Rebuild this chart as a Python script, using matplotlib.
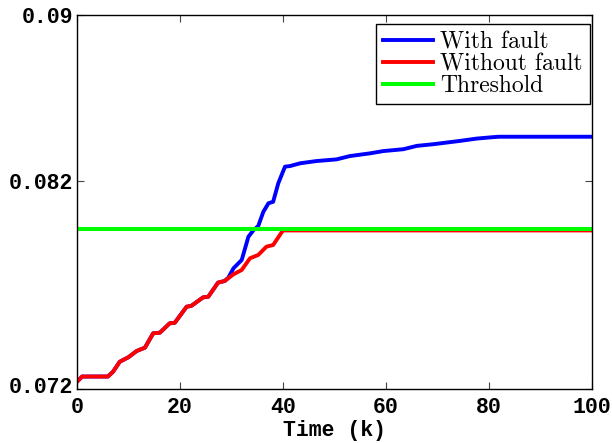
import matplotlib
matplotlib.use('Agg')
import matplotlib.pyplot as plt
import matplotlib.transforms as mtransforms
import numpy as np

# Residual evaluation with and without fault
k_nf=[0,1,6,7,8.3,10,11.6,13.2,14.8,16.1,18,19,21.3,22.2,24.5,25.5,27.4,28.7,30.4,32,
      33.6,35.2,36.8,38.1,40,100]
v_nf=[0.07235,0.0726,0.0726,0.07283,0.07331,0.07353,0.07383,0.07399,0.07468,0.07471,
      0.07516,0.07519,0.07596,0.0760,0.07641,0.07644,0.07712,0.0772,0.07752,0.07773,
      0.07829,0.07845,0.07885,0.07893,0.07963,0.07963]

k_f=[0,1,6,7,8.3,10,11.6,13.2,14.8,16.1,18,19,21.3,22.2,24.5,25.5,27.4,28.7,29.4,30.4,
     32,33.3,34.3,35.2,36.2,37.2,38.1,39.1,40.4,41.4,43.3,46.5,50.4,53,56.9,59.5,63.4,
     66,69.2,71.8,74.4,77.6,80.8,82,100]
v_f=[0.07235,0.0726,0.0726,0.07283,0.07331,0.07353,0.07383,0.07399,0.07468,0.07471,
     0.07516,0.07519,0.07596,0.0760,0.07641,0.07644,0.07712,0.0772,0.07736,0.07781,
     0.07821,0.07933,0.07965,0.07984,0.08053,0.08094,0.08101,0.0819,0.0827,0.08273,
     0.08286,0.08297,0.08305,0.08321,0.08334,0.08345,0.08354,0.0837,0.08378,0.08386,
     0.08394,0.08405,0.08412,0.08414,0.08414]

threshold=0.0797

xticks=[0,20,40,60,80,100]
yticks=[0.072,0.082,0.09]
ytick_labels=['0.072','0.082','0.09']

fig=plt.figure(figsize=(6.12,4.43),dpi=100,facecolor='white')
ax=fig.add_axes([0.1258,0.1219,0.8412,0.8443])

ax.plot(k_f,v_f,color='#0000ff',linewidth=2.8,label='With fault')
ax.plot(k_nf,v_nf,color='#ff0000',linewidth=2.8,label='Without fault')
ax.plot([0,100],[threshold,threshold],color='#00ff00',linewidth=2.9,label='Threshold')

ax.set_xlim(0,100)
ax.set_ylim(0.072,0.09)
ax.set_xticks(xticks)
ax.set_xticklabels([str(x) for x in xticks])
ax.set_yticks(yticks)
ax.set_yticklabels(ytick_labels)

mono={'family':'Liberation Mono','weight':'bold','size':15.5}
for lab in ax.get_xticklabels()+ax.get_yticklabels():
    lab.set_fontproperties(matplotlib.font_manager.FontProperties(**mono))
ax.set_xlabel('Time (k)',fontdict=mono,labelpad=1)

ax.tick_params(direction='in',top=True,right=True,length=5,width=0.8,
               colors='#444444',labelcolor='black')
ax.tick_params(axis='x',pad=6)
ax.tick_params(axis='y',pad=3)
for s in ax.spines.values():
    s.set_linewidth(1.0)
    s.set_color('black')

# nudge the lowest y label up a few pixels so it clears the x labels
fig.canvas.draw()
lab0=ax.yaxis.get_major_ticks()[0].label1
lab0.set_transform(lab0.get_transform()+mtransforms.ScaledTranslation(0,4/100,fig.dpi_scale_trans))

leg=ax.legend(loc='upper right',bbox_to_anchor=(0.996,0.976),prop={'family':'cmr10','size':17},
              handlelength=2.1,handletextpad=0.3,labelspacing=0.0,
              borderpad=0.3,borderaxespad=0,fancybox=False,framealpha=1)
leg.get_frame().set_edgecolor('black')
leg.get_frame().set_linewidth(1.0)

fig.savefig('out.png',dpi=100)
